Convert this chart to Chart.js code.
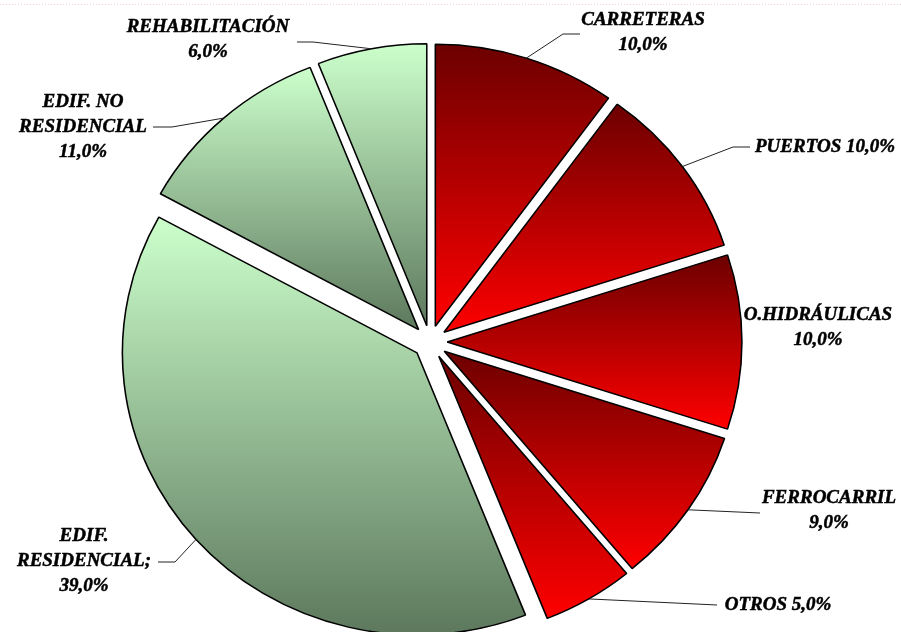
<!DOCTYPE html>
<html>
<head>
<meta charset="utf-8">
<script src="https://cdn.jsdelivr.net/npm/chart.js@4.4.0/dist/chart.umd.min.js"></script>
<style>
  html, body { margin: 0; padding: 0; background: #fff; }
  canvas { display: block; }
</style>
</head>
<body>
<canvas id="pie" width="901" height="632"></canvas>
<script>
// Reparto por tipo de obra (%)
const categories = ['CARRETERAS', 'PUERTOS', 'O.HIDRÁULICAS', 'FERROCARRIL', 'OTROS',
  'EDIF. RESIDENCIAL', 'EDIF. NO RESIDENCIAL', 'REHABILITACIÓN'];
const shares = [10, 10, 10, 9, 5, 39, 11, 6];

// how each label is broken into lines, {v} is the percentage
const labelLines = [
  ['CARRETERAS', '{v}'],
  ['PUERTOS {v}'],
  ['O.HIDRÁULICAS', '{v}'],
  ['FERROCARRIL', '{v}'],
  ['OTROS {v}'],
  ['EDIF.', 'RESIDENCIAL;', '{v}'],
  ['EDIF. NO', 'RESIDENCIAL', '{v}'],
  ['REHABILITACIÓN', '{v}']
];

// geometry / style
const CX = 430, CY = 342, R = 282;
const EXPLODE = 16.5;   // distance each slice is pulled out
const SX = 1.045;       // pie is a bit wider than tall
const reds = ['#6c0000', '#ff0000'];
const greens = ['#ccffcc', '#5d785d'];
const sliceColors = [reds, reds, reds, reds, reds, greens, greens, greens];

// label boxes: centre x, centre y of first line, leader elbow / end
const labelPos = [
  { x: 643, y: 20, elbow: [563, 34], end: [580, 34] },
  { x: 825, y: 147, elbow: [733, 147], end: [750, 147] },
  { x: 818, y: 315 },
  { x: 829, y: 498, end: [760, 513] },
  { x: 778, y: 605, end: [717, 605] },
  { x: 84, y: 536, elbow: [175, 562], end: [158, 562] },
  { x: 83, y: 102, elbow: [172, 127], end: [153, 127] },
  { x: 208, y: 27, elbow: [313, 42], end: [297, 42] }
];
const LINE_H = 25;

function pct(v) {
  return v.toFixed(1).replace('.', ',') + '%';
}

// vertical gradient over each slice's own height
function sliceGradient(ctx, i) {
  const total = shares.reduce((a, b) => a + b, 0);
  const before = shares.slice(0, i).reduce((a, b) => a + b, 0);
  const a0 = before / total * 2 * Math.PI;
  const a1 = (before + shares[i]) / total * 2 * Math.PI;
  const cy = CY - Math.cos((a0 + a1) / 2) * EXPLODE;
  const ys = [cy, cy - R * Math.cos(a0), cy - R * Math.cos(a1)];
  if (a0 < Math.PI && a1 > Math.PI) ys.push(cy + R);
  const g = ctx.createLinearGradient(0, Math.min(...ys), 0, Math.max(...ys));
  g.addColorStop(0, sliceColors[i][0]);
  g.addColorStop(1, sliceColors[i][1]);
  return g;
}

const explodePlugin = {
  id: 'explode',
  afterDatasetUpdate(chart, args) {
    args.meta.data.forEach(arc => {
      const mid = (arc.startAngle + arc.endAngle) / 2;
      arc.x += Math.cos(mid) * EXPLODE;
      arc.y += Math.sin(mid) * EXPLODE;
    });
  },
  beforeDatasetsDraw(chart) {
    const ctx = chart.ctx;
    ctx.save();
    ctx.translate(CX, 0);
    ctx.scale(SX, 1);
    ctx.translate(-CX, 0);
  },
  afterDatasetsDraw(chart) {
    chart.ctx.restore();
  }
};

const labelPlugin = {
  id: 'sliceLabels',
  afterDraw(chart) {
    const ctx = chart.ctx;
    const arcs = chart.getDatasetMeta(0).data;

    // faint dotted rule along the top edge
    ctx.save();
    ctx.strokeStyle = '#f0d2d8';
    ctx.lineWidth = 1;
    ctx.setLineDash([1, 2]);
    ctx.beginPath();
    ctx.moveTo(0, 4.5);
    ctx.lineTo(901, 4.5);
    ctx.stroke();
    ctx.restore();

    ctx.save();
    ctx.font = 'italic bold 19px "Liberation Serif", "Times New Roman", serif';
    ctx.fillStyle = '#000';
    ctx.textAlign = 'center';
    ctx.textBaseline = 'middle';
    ctx.lineWidth = 1;

    arcs.forEach((arc, i) => {
      const pos = labelPos[i];
      if (pos.end) {
        const mid = (arc.startAngle + arc.endAngle) / 2;
        const px = arc.x + Math.cos(mid) * arc.outerRadius;
        const py = arc.y + Math.sin(mid) * arc.outerRadius;
        ctx.strokeStyle = '#222';
        ctx.lineWidth = 1;
        ctx.beginPath();
        ctx.moveTo(CX + (px - CX) * SX, py);
        if (pos.elbow) ctx.lineTo(pos.elbow[0], pos.elbow[1]);
        ctx.lineTo(pos.end[0], pos.end[1]);
        ctx.stroke();
      }
      ctx.strokeStyle = '#000';
      ctx.lineWidth = 0.5;
      labelLines[i].forEach((line, k) => {
        const txt = line.replace('{v}', pct(shares[i]));
        ctx.fillText(txt, pos.x, pos.y + k * LINE_H);
        ctx.strokeText(txt, pos.x, pos.y + k * LINE_H);
      });
    });
    ctx.restore();
  }
};

new Chart(document.getElementById('pie'), {
  type: 'pie',
  data: {
    labels: categories,
    datasets: [{
      data: shares,
      radius: R,
      backgroundColor: c => sliceGradient(c.chart.ctx, c.dataIndex),
      borderColor: '#000',
      borderWidth: 1.5,
      clip: false
    }]
  },
  options: {
    responsive: false,
    animation: false,
    events: [],
    layout: { padding: { left: 0, right: 41, top: 52, bottom: 0 } },
    plugins: {
      legend: { display: false },
      tooltip: { enabled: false }
    }
  },
  plugins: [explodePlugin, labelPlugin]
});
</script>
</body>
</html>
